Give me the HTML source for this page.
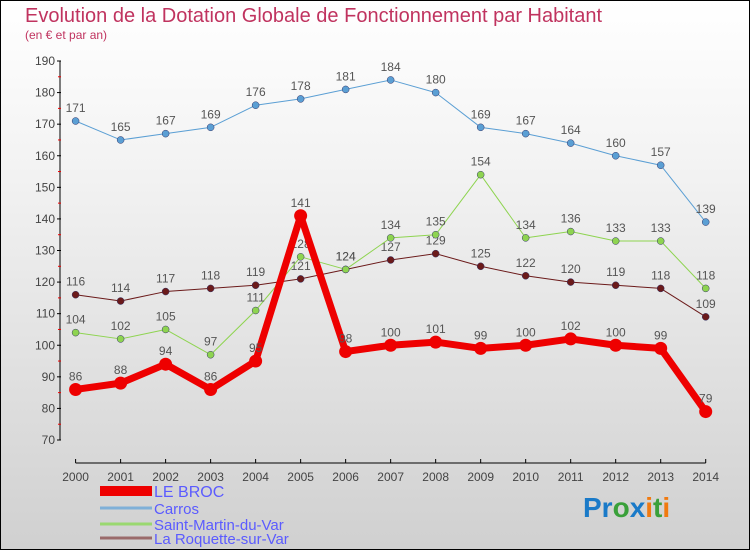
<!DOCTYPE html>
<html><head><meta charset="utf-8"><style>
body{margin:0;}
#c{width:748px;height:548px;border:1px solid #000;background:linear-gradient(#ffffff,#f3f3f3 30%,#d0d0d0);position:relative;overflow:hidden;font-family:"Liberation Sans",sans-serif;}
</style></head><body>
<div id="c">
<svg id="s" width="750" height="550" style="position:absolute;left:-1px;top:-1px">
<text x="25" y="22" font-size="20" fill="#c0335f">Evolution de la Dotation Globale de Fonctionnement par Habitant</text>
<text x="25" y="39" font-size="12" fill="#c0335f">(en € et par an)</text>
<g id="axes"></g><g id="series"></g><g id="legend"></g>
<text x="583" y="517" font-size="28" font-weight="bold"><tspan fill="#1a7ac8">Pr</tspan><tspan fill="#3aa03a">o</tspan><tspan fill="#1a7ac8">x</tspan><tspan fill="#f07a10">i</tspan><tspan fill="#3aa03a">t</tspan><tspan fill="#f07a10">i</tspan></text>
</svg>
</div>
<script>
const years=[2000,2001,2002,2003,2004,2005,2006,2007,2008,2009,2010,2011,2012,2013,2014];
const leBroc=[86,88,94,86,95,141,98,100,101,99,100,102,100,99,79];
const carros=[171,165,167,169,176,178,181,184,180,169,167,164,160,157,139];
const saintMartin=[104,102,105,97,111,128,124,134,135,154,134,136,133,133,118];
const laRoquette=[116,114,117,118,119,121,124,127,129,125,122,120,119,118,109];
const yTicks=[70,80,90,100,110,120,130,140,150,160,170,180,190];
const NS="http://www.w3.org/2000/svg";
const X=i=>75.6+i*(705.7-75.6)/(years.length-1);
const Y=v=>440-(v-70)*(440-61)/120;
function mk(t,a,p){const e=document.createElementNS(NS,t);for(const k in a)e.setAttribute(k,a[k]);p.appendChild(e);return e;}
const ax=document.getElementById('axes');
let l=mk('line',{x1:60,y1:Y(190),x2:60,y2:Y(70),stroke:'#000'},ax);


yTicks.forEach(v=>{
 mk('line',{x1:57,y1:Y(v),x2:61,y2:Y(v),stroke:'#000'},ax);
 if(v<190)mk('line',{x1:58,y1:Y(v+5),x2:61,y2:Y(v+5),stroke:'#e00'},ax);
 const t=mk('text',{x:55,y:Y(v)+4,'text-anchor':'end','font-size':12,fill:'#444'},ax);t.textContent=v;
 
 
});
l=mk('line',{x1:X(0),y1:463,x2:X(14),y2:463,stroke:'#000'},ax);


years.forEach((y,i)=>{
 mk('line',{x1:X(i),y1:459,x2:X(i),y2:463,stroke:'#000'},ax);
 const t=mk('text',{x:X(i),y:481,'text-anchor':'middle','font-size':12,fill:'#444'},ax);t.textContent=y;
 
 
});
const se=document.getElementById('series');
const defs=[
 {d:laRoquette,c:'#6b1a1a',w:1,r:3.5,n:'la-roquette'},
 {d:saintMartin,c:'#8ed450',w:1,r:3.5,n:'saint-martin'},
 {d:carros,c:'#5b9fd4',w:1,r:3.5,n:'carros'},
 {d:leBroc,c:'#ee0000',w:7,r:6.5,n:'le-broc'}];
defs.forEach(s=>{
 const g=mk('g',{},se);
 
 
 const p=mk('polyline',{points:s.d.map((v,i)=>X(i)+','+Y(v)).join(' '),fill:'none',stroke:s.c,'stroke-width':s.w,'stroke-linejoin':'round'},g);
 
 
 s.d.forEach((v,i)=>{
  const c=mk('circle',{cx:X(i),cy:Y(v),r:s.r,fill:s.c,stroke:s.w>1?'none':'#336',"stroke-width":0.5},g);
  
  
  const t=mk('text',{x:X(i),y:Y(v)-9,'text-anchor':'middle','font-size':12,fill:'#555'},g);t.textContent=v;
  
  
 });
});
const lg=document.getElementById('legend');
const names=['LE BROC','Carros','Saint-Martin-du-Var','La Roquette-sur-Var'];
const cols=['#ee0000','#7fb0d8','#9ad870','#9a6a6a'];
const ys=[491,508,524,538];
names.forEach((n,i)=>{
 const r=mk('rect',{x:100,y:ys[i]-(i==0?5:1.5),width:52,height:i==0?10:3,fill:cols[i]},lg);
 
 
 const t=mk('text',{x:154,y:ys[i]+6,'font-size':i==0?16:15,fill:'#5b5bff'},lg);t.textContent=n;
 
 
});
</script>
</body></html>
